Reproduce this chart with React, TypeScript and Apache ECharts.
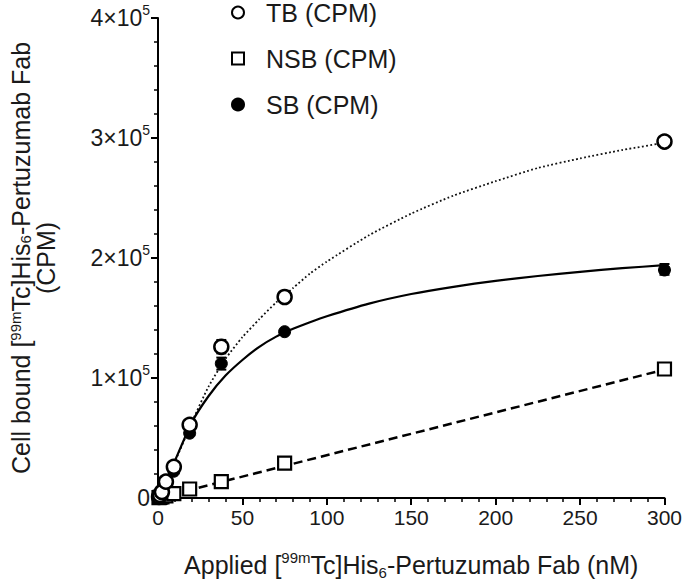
import React, { useEffect, useRef } from "react";
import * as echarts from "echarts";

// Applied concentration (nM)
const concentrations = [0.59, 1.17, 2.34, 4.69, 9.38, 18.75, 37.5, 75, 300];
// Measured means (CPM)
const tbValues = [1000, 2500, 5000, 13600, 26000, 61000, 126000, 167500, 297000];
const nsbValues = [300, 500, 1000, 1800, 3700, 7500, 13600, 29000, 107500];
const sbValues = [700, 2000, 4000, 11800, 22300, 54000, 112000, 138600, 190000];
// Error bars: [x, low, high]
const errorBars = [
  [37.5, 120500, 131700],
  [37.5, 107000, 117000],
  [300, 186000, 195000],
];
// Fitted curves
const fitX = [0, 5, 10, 20, 30, 40, 50, 60, 70, 80, 90, 100, 125, 150, 175, 200, 225, 250, 275, 300];
const tbFit = [0, 14000, 30000, 63000, 93000, 116000, 134000, 149000, 163000, 175000, 187000, 197000, 219000, 237000, 252000, 264000, 275000, 283000, 290000, 296000];
const sbFit = [0, 15000, 31000, 63000, 85000, 102000, 115000, 126000, 134500, 141000, 146500, 151500, 162000, 170000, 176000, 181000, 185000, 188500, 191500, 194000];
const nsbFitX = [0, 300];
const nsbFit = [0, 107000];

const seriesNames = ["TB (CPM)", "NSB (CPM)", "SB (CPM)"];

const FONT = "'Liberation Sans', Arial, sans-serif";
const TXT = "#1a1a1a";

const zip = (xs: number[], ys: number[]) => xs.map((x, i) => [x, ys[i]]);

export default function App() {
  const ref = useRef<HTMLDivElement>(null);
  useEffect(() => {
    document.body.style.margin = "0";
    const chart = echarts.init(ref.current!, null, { renderer: "svg" });
    const option: any = {
      animation: false,
      backgroundColor: "#fff",
      textStyle: { fontFamily: FONT },
      grid: { left: 153, right: 20, top: 18, bottom: 87, containLabel: false },
      legend: {
        orient: "vertical",
        left: 231,
        top: 0,
        padding: 0,
        itemGap: 21,
        itemWidth: 12,
        itemHeight: 12,
        itemTextGap: 24,
        data: seriesNames,
        textStyle: { fontSize: 25, color: TXT, fontFamily: FONT, padding: [0, 0, 0, 17] },
      },
      xAxis: {
        type: "value",
        min: 0,
        max: 300,
        interval: 50,
        splitLine: { show: false },
        axisLine: { show: true, lineStyle: { color: "#000", width: 2 } },
        axisTick: { show: true, length: 7, lineStyle: { color: "#000", width: 2 } },
        minorTick: { show: true, splitNumber: 5, length: 4, lineStyle: { color: "#000", width: 1.5 } },
        axisLabel: { fontSize: 21, color: TXT, margin: 9, fontFamily: FONT },
        name: "Applied [{sup|99m}Tc]His{sub|6}-Pertuzumab Fab (nM)",
        nameLocation: "middle",
        nameGap: 52,
        nameTextStyle: {
          fontSize: 25,
          color: TXT,
          lineHeight: 30,
          fontFamily: FONT,
          rich: {
            sup: { fontSize: 15, lineHeight: 14, verticalAlign: "top", color: TXT, fontFamily: FONT },
            sub: { fontSize: 15, lineHeight: 18, verticalAlign: "bottom", color: TXT, fontFamily: FONT },
          },
        },
      },
      yAxis: {
        type: "value",
        min: 0,
        max: 400000,
        interval: 100000,
        splitLine: { show: false },
        axisLine: { show: true, lineStyle: { color: "#000", width: 2 } },
        axisTick: { show: true, length: 7, lineStyle: { color: "#000", width: 2 } },
        minorTick: { show: true, splitNumber: 5, length: 4, lineStyle: { color: "#000", width: 1.5 } },
        axisLabel: {
          fontSize: 23,
          color: TXT,
          margin: 8,
          lineHeight: 30,
          fontFamily: FONT,
          formatter: (v: number) => (v === 0 ? "0" : `${v / 100000}×10{sup|5}`),
          rich: {
            sup: { fontSize: 14, lineHeight: 14, verticalAlign: "top", color: TXT, fontFamily: FONT },
          },
        },
        name: "Cell bound [{sup|99m}Tc]His{sub|6}-Pertuzumab Fab\n(CPM)",
        nameLocation: "middle",
        nameGap: 100,
        nameTextStyle: {
          fontSize: 25,
          color: TXT,
          lineHeight: 25,
          fontFamily: FONT,
          rich: {
            sup: { fontSize: 15, lineHeight: 12, verticalAlign: "top", color: TXT, fontFamily: FONT },
            sub: { fontSize: 15, lineHeight: 16, verticalAlign: "bottom", color: TXT, fontFamily: FONT },
          },
        },
      },
      series: [
        {
          name: "TB fit",
          type: "line",
          data: zip(fitX, tbFit),
          smooth: 0.2,
          showSymbol: false,
          symbol: "none",
          lineStyle: { color: "#111", width: 1.8, type: [1.8, 2.4] },
          z: 2,
        },
        {
          name: "SB fit",
          type: "line",
          data: zip(fitX, sbFit),
          smooth: 0.2,
          showSymbol: false,
          symbol: "none",
          lineStyle: { color: "#000", width: 2.2, type: "solid" },
          z: 2,
        },
        {
          name: "NSB fit",
          type: "line",
          data: zip(nsbFitX, nsbFit),
          showSymbol: false,
          symbol: "none",
          lineStyle: { color: "#000", width: 2.5, type: [9, 5] },
          z: 2,
        },
        {
          name: "error",
          type: "custom",
          data: errorBars,
          encode: { x: 0, y: [1, 2] },
          z: 3,
          renderItem: (params: any, api: any) => {
            const x = api.value(0);
            const pLo = api.coord([x, api.value(1)]);
            const pHi = api.coord([x, api.value(2)]);
            const w = 5;
            const style = { stroke: "#000", lineWidth: 2 };
            return {
              type: "group",
              children: [
                { type: "line", shape: { x1: pLo[0], y1: pLo[1], x2: pHi[0], y2: pHi[1] }, style },
                { type: "line", shape: { x1: pLo[0] - w, y1: pLo[1], x2: pLo[0] + w, y2: pLo[1] }, style },
                { type: "line", shape: { x1: pHi[0] - w, y1: pHi[1], x2: pHi[0] + w, y2: pHi[1] }, style },
              ],
            };
          },
        },
        {
          name: "SB (CPM)",
          type: "scatter",
          data: zip(concentrations, sbValues),
          symbol: "circle",
          symbolSize: 12,
          itemStyle: { color: "#000", borderColor: "#000", borderWidth: 1, opacity: 1 },
          z: 4,
        },
        {
          name: "NSB (CPM)",
          type: "scatter",
          data: zip(concentrations, nsbValues),
          symbol: "rect",
          symbolSize: 13,
          itemStyle: { color: "#fff", borderColor: "#000", borderWidth: 2.2, opacity: 1 },
          z: 5,
        },
        {
          name: "TB (CPM)",
          type: "scatter",
          data: zip(concentrations, tbValues),
          symbol: "circle",
          symbolSize: 14,
          itemStyle: { color: "#fff", borderColor: "#000", borderWidth: 2.5, opacity: 1 },
          z: 6,
        },
      ],
    };
    chart.setOption(option);
    return () => chart.dispose();
  }, []);
  return <div ref={ref} style={{ width: 685, height: 585 }} />;
}
